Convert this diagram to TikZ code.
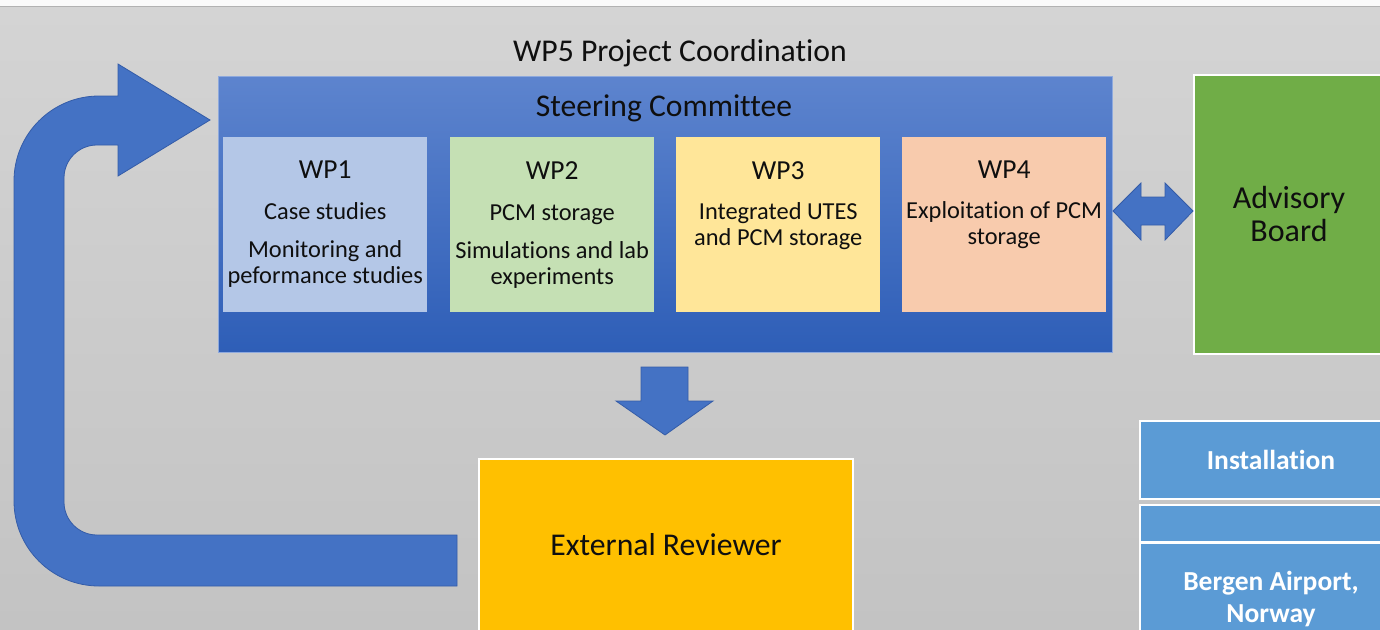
\documentclass[tikz,border=0pt]{standalone}
\usepackage{fontspec}
\setmainfont{Carlito}[Ligatures=NoCommon]
\usetikzlibrary{positioning}
\definecolor{bgtop}{RGB}{212,212,212}
\definecolor{bgbot}{RGB}{195,195,195}
\definecolor{scTop}{RGB}{93,132,206}
\definecolor{scBot}{RGB}{46,94,183}
\definecolor{arrowblue}{RGB}{68,114,196}
\definecolor{arrowedge}{RGB}{52,92,168}
\definecolor{wpA}{RGB}{180,199,231}
\definecolor{wpB}{RGB}{197,224,180}
\definecolor{wpC}{RGB}{255,230,153}
\definecolor{wpD}{RGB}{248,203,173}
\definecolor{advgreen}{RGB}{112,173,71}
\definecolor{revyellow}{RGB}{255,192,0}
\definecolor{sideblue}{RGB}{91,155,213}
\definecolor{txt}{RGB}{15,15,15}

\begin{document}
\begin{tikzpicture}[x=1pt, y=-1pt,
    wpbox/.style={anchor=north west, minimum width=204pt, minimum height=175pt, inner sep=0pt},
    wptext/.style={anchor=north, align=center, inner sep=0pt, text=txt,
        font=\fontsize{24.4}{26}\selectfont},
    blockarrow/.style={fill=arrowblue, draw=arrowedge, line width=0.8pt},
    sidebox/.style={anchor=north west, fill=sideblue, draw=white, line width=2pt,
        minimum width=262pt, text=white, font=\bfseries\fontsize{27.5}{32}\selectfont, align=center}]
    \useasboundingbox (0,0) rectangle (1380,629);
    \clip (0,0) rectangle (1380,629);

    % Background
    \fill[white!96!gray] (0,0) rectangle (1380,6);
    \fill[top color=bgtop, bottom color=bgbot] (0,6) rectangle (1380,629);
    \draw[gray!60, line width=0.8pt] (0,6) -- (1380,6);

    \node[text=txt, font=\fontsize{31.7}{32}\selectfont] (wp5) at (680,53) {WP5 Project Coordination};

    % Steering committee
    \node[anchor=north west, minimum width=894pt, minimum height=276pt, inner sep=0pt,
        top color=scTop, bottom color=scBot, draw=scTop!70!white, line width=0.6pt] (sc) at (218,76) {};
    \node[text=txt, font=\fontsize{31.6}{32}\selectfont] (sctitle) at (664,108) {Steering Committee};

    % Work packages
    \node[wpbox, fill=wpA] (wp1) at (223,137) {};
    \node[wpbox, fill=wpB] (wp2) at (450,137) {};
    \node[wpbox, fill=wpC] (wp3) at (676,137) {};
    \node[wpbox, fill=wpD] (wp4) at (902,137) {};
    \node[wptext, below=24pt of wp1.north] (t1) {{\fontsize{27.5}{26}\selectfont WP1}\\[15pt]
        Case studies\\[12pt] Monitoring and\\ peformance studies};
    \node[wptext, below=24pt of wp2.north] (t2) {{\fontsize{27.5}{26}\selectfont WP2}\\[15pt]
        PCM storage\\[12pt] Simulations and lab\\ experiments};
    \node[wptext, below=24pt of wp3.north] (t3) {{\fontsize{27.5}{26}\selectfont WP3}\\[14pt]
        Integrated UTES\\ and PCM storage};
    \node[wptext, below=24pt of wp4.north] (t4) {{\fontsize{27.5}{26}\selectfont WP4}\\[14pt]
        Exploitation of PCM\\ storage};

    % Advisory board
    \node[anchor=north west, minimum width=190pt, minimum height=279pt, fill=advgreen,
        draw=white, line width=2pt, align=center, text=txt,
        font=\fontsize{32}{33}\selectfont] (adv) at (1193,74) {Advisory\\ Board};
    \draw[blockarrow] (1113,211) -- (1141,183) -- (1141,197) -- (1165,197) -- (1165,183)
        -- (1193,211) -- (1165,240) -- (1165,225) -- (1141,225) -- (1141,240) -- cycle;

    % External reviewer
    \node[anchor=north west, minimum width=374pt, minimum height=172pt, fill=revyellow,
        draw=white, line width=2pt, text=txt, font=\fontsize{31.7}{32}\selectfont] (rev) at (478,458) {External Reviewer};
    \draw[blockarrow] (641,367) -- (688,367) -- (688,401) -- (713,401) -- (665,435)
        -- (616,401) -- (641,401) -- cycle;

    % Feedback loop
    \draw[blockarrow] (457,586) [rounded corners=85pt] -- (14,586) -- (14,96) [sharp corners]
        -- (118,96) -- (118,64) -- (210,120) -- (118,176) -- (118,145) [rounded corners=33pt]
        -- (64,145) -- (64,535) [sharp corners] -- (457,535) -- cycle;

    % Installation
    \node[sidebox, minimum height=78pt] (inst) at (1139,420) {Installation};
    \node[sidebox, minimum height=37pt] (gap) at (1139,504) {};
    \node[sidebox, minimum height=112pt] (site) at (1139,542) {Bergen Airport,\\ Norway};
\end{tikzpicture}
\end{document}
